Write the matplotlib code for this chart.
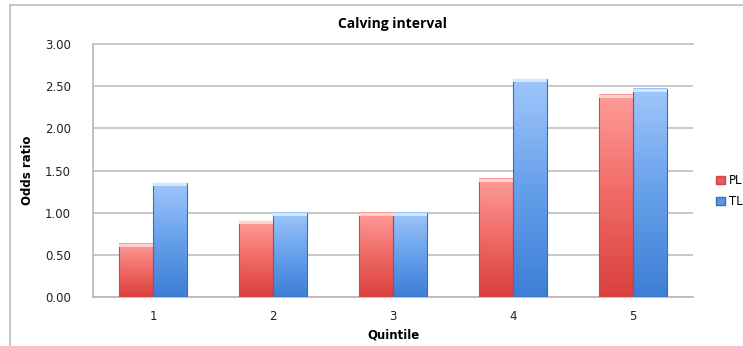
import numpy as np
import matplotlib
matplotlib.use("Agg")
import matplotlib.pyplot as plt
from matplotlib.lines import Line2D
from matplotlib.patches import Rectangle
from matplotlib.colors import LinearSegmentedColormap

quintiles = ["1", "2", "3", "4", "5"]
pl_values = [0.63, 0.90, 1.00, 1.40, 2.40]
tl_values = [1.35, 1.00, 1.00, 2.58, 2.47]
y_ticks = [0.0, 0.5, 1.0, 1.5, 2.0, 2.5, 3.0]

W, H = 743, 346
fig = plt.figure(figsize=(W / 100, H / 100), dpi=100)
ax = fig.add_axes([93 / W, (H - 297) / H, 600 / W, 253 / H])

red_cmap = LinearSegmentedColormap.from_list("red", ["#d9403d", "#f06a66", "#ff9c99"])
blue_cmap = LinearSegmentedColormap.from_list("blue", ["#3d7ed6", "#66a0ea", "#a0c6fb"])
red_cap = "#ffd2d0"
blue_cap = "#d2e6ff"

x = np.arange(len(quintiles))
bw = 0.283
grad = np.linspace(0, 1, 256).reshape(-1, 1)


def gradient_bar(x0, h, cmap, edge, cap):
    ax.imshow(grad, extent=(x0, x0 + bw, 0, h), origin="lower", cmap=cmap,
              aspect="auto", zorder=3, interpolation="bilinear")
    ax.add_patch(Rectangle((x0, 0), bw, h, fill=False, edgecolor=edge,
                           linewidth=0.8, zorder=4))
    ax.add_patch(Rectangle((x0, h - 0.035), bw, 0.035, facecolor=cap,
                           edgecolor="none", zorder=4))


for i in x:
    gradient_bar(i - bw, pl_values[i], red_cmap, "#c84a48", red_cap)
    gradient_bar(i, tl_values[i], blue_cmap, "#3a6fb8", blue_cap)

ax.set_xlim(-0.5, len(quintiles) - 0.5)
ax.set_ylim(0, 3.0)
ax.set_yticks(y_ticks)
ax.set_yticklabels([f"{v:.2f}" for v in y_ticks], fontsize=8.5, color="#222222")
ax.set_xticks(x)
ax.set_xticklabels(quintiles, fontsize=8.5, color="#222222")
ax.tick_params(axis="both", length=0, pad=9)
ax.tick_params(axis="y", pad=16)
ax.grid(axis="y", color="#c4c4c4", linewidth=1.3, zorder=0)
ax.set_axisbelow(True)
for s in ["right"]:
    ax.spines[s].set_visible(False)
for s in ["left", "top", "bottom"]:
    ax.spines[s].set_color("#b8b8b8")
    ax.spines[s].set_linewidth(1.2)
ax.spines["top"].set_color("#c4c4c4")

ax.set_xlabel("Quintile", fontsize=8.5, fontweight="bold", labelpad=4)
ax.set_ylabel("Odds ratio", fontsize=8.5, fontweight="bold", labelpad=8,
              family="Liberation Sans Narrow")
fig.text(393 / W, 1 - 24 / H, "Calving interval", ha="center", va="center",
         fontsize=10, fontweight="bold", family="Open Sans")

# legend
handles = [Rectangle((0, 0), 1, 1, facecolor="#e85a58", edgecolor="#c84a48"),
           Rectangle((0, 0), 1, 1, facecolor="#5b96e6", edgecolor="#3a6fb8")]
fig.legend(handles, ["PL", "TL"], loc="center left",
           bbox_to_anchor=(705 / W, 1 - 191 / H), frameon=False, fontsize=8.5,
           handlelength=0.8, handleheight=0.7, handletextpad=0.3, labelspacing=0.7)

# outer chart border
fig.add_artist(Line2D([10 / W, 10 / W], [0, 1 - 5 / H], color="#c0c0c0", linewidth=1.3))
fig.add_artist(Line2D([10 / W, 1], [1 - 5 / H, 1 - 5 / H], color="#c0c0c0", linewidth=1.3))

fig.savefig("out.png", dpi=100)
